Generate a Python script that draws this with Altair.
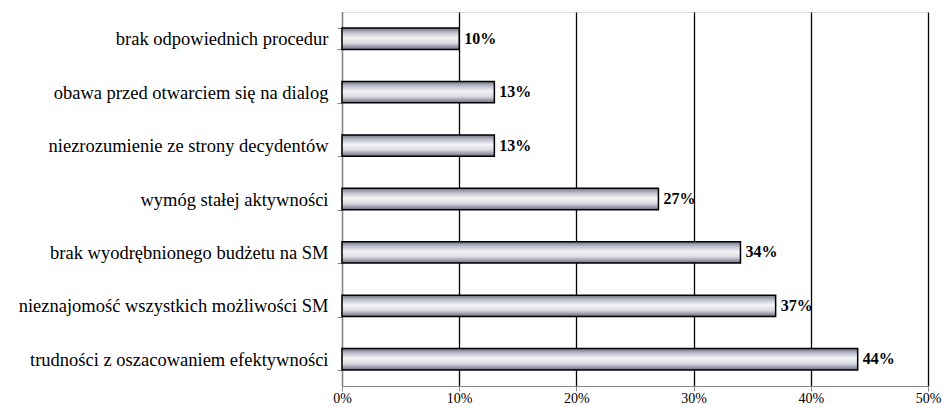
import altair as alt
import pandas as pd

categories = [
    "brak odpowiednich procedur",
    "obawa przed otwarciem się na dialog",
    "niezrozumienie ze strony decydentów",
    "wymóg stałej aktywności",
    "brak wyodrębnionego budżetu na SM",
    "nieznajomość wszystkich możliwości SM",
    "trudności z oszacowaniem efektywności",
]
values = [10, 13, 13, 27, 34, 37, 44]
tick_values = [0, 10, 20, 30, 40, 50]

df = pd.DataFrame({"cat": categories, "val": values})
df["lab"] = [f"{v}%" for v in values]

FONT = "Times New Roman, Liberation Serif, serif"

grad = alt.LinearGradient(
    gradient="linear",
    x1=0, y1=0, x2=0, y2=1,
    stops=[
        alt.GradientStop(color="#6f7286", offset=0),
        alt.GradientStop(color="#b9bbc7", offset=0.2),
        alt.GradientStop(color="#f4f4f6", offset=0.45),
        alt.GradientStop(color="#dcdde3", offset=0.7),
        alt.GradientStop(color="#6a6d80", offset=1),
    ],
)

y_enc = alt.Y(
    "cat:N",
    sort=categories,
    scale=alt.Scale(paddingInner=0.6, paddingOuter=0.3),
    axis=alt.Axis(
        title=None,
        tickBand="extent",
        tickSize=5,
        labelFont=FONT,
        labelFontSize=18.5,
        labelPadding=9,
        labelLimit=400,
        grid=False,
    ),
)

x_enc = alt.X(
    "val:Q",
    scale=alt.Scale(domain=[0, 50], nice=False),
    axis=alt.Axis(
        title=None,
        values=tick_values,
        labelExpr="datum.value + '%'",
        labelFlush=False,
        labelFont=FONT,
        tickSize=5,
        labelFontSize=14,
        labelPadding=0,
        grid=True,
        gridColor="black",
        gridWidth=1.3,
        gridOpacity=1,
    ),
)

bars = alt.Chart(df).mark_bar(
    color=grad, stroke="black", strokeWidth=1.5
).encode(x=x_enc, y=y_enc)

labels = alt.Chart(df).mark_text(
    align="left", baseline="middle", dx=5, font=FONT, fontSize=16,
    fontWeight="bold", color="black"
).encode(
    x=alt.X("val:Q"),
    y=alt.Y("cat:N", sort=categories),
    text="lab:N",
)

chart = (
    alt.layer(bars, labels)
    .properties(
        width=586,
        height=374,
        autosize=alt.AutoSizeParams(type="none"),
        padding={"left": 342, "top": 12, "right": 16, "bottom": 21},
    )
    .configure_view(stroke="#999999", strokeWidth=1.5)
    .configure_axis(
        labelFont=FONT,
        labelColor="black",
        domainColor="black",
        tickColor="black",
        domainWidth=1.3,
        tickWidth=1.3,
    )
    .configure(background="white", font=FONT)
)

chart.save("out.html", embed_options={"renderer": "svg", "actions": False})
